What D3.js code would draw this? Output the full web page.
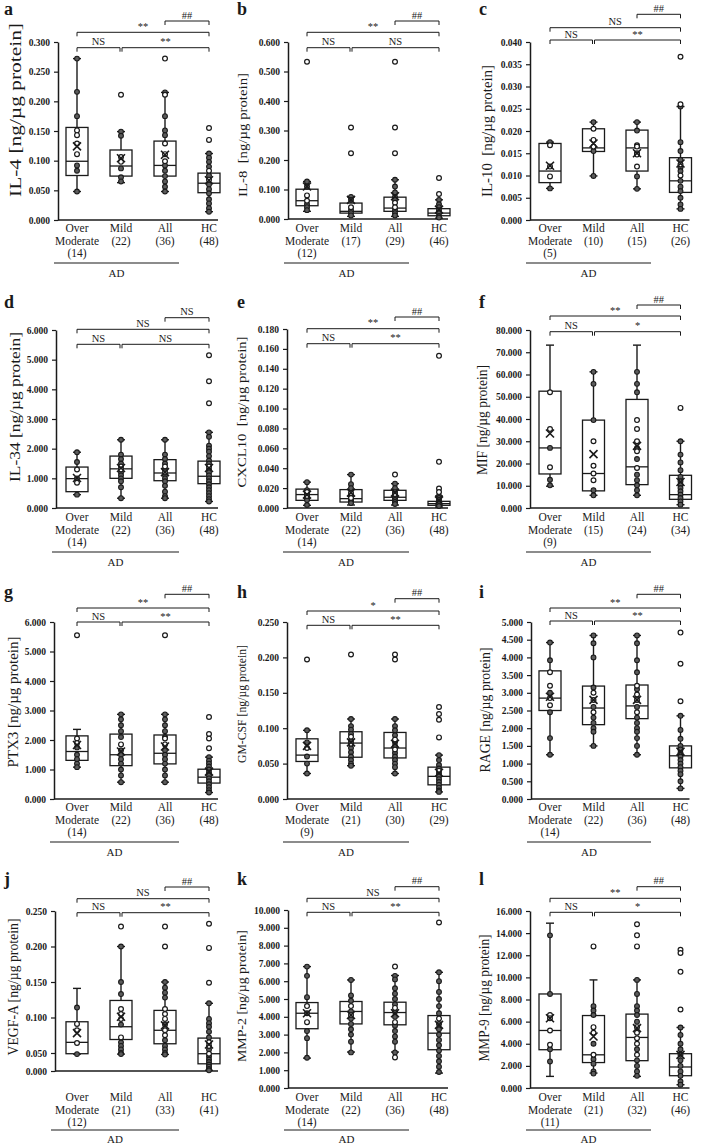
<!DOCTYPE html>
<html>
<head>
<meta charset="utf-8">
<script src="https://cdn.jsdelivr.net/npm/d3@7/dist/d3.min.js"></script>
<style>
  body { margin: 0; background: #fff; }
  svg text { font-family: "Liberation Serif", "Times New Roman", serif; fill: #1a1a1a; white-space: pre; }
</style>
</head>
<body>
<div id="chart"></div>
<script>
// ---- data ----
const panelIds = ["a", "b", "c", "d", "e", "f", "g", "h", "i", "j", "k", "l"];
const yLabels = [
  "IL-4 [ng/µg protein]", "IL-8  [ng/µg protein]", "IL-10  [ng/µg protein]",
  "IL-34 [ng/µg protein]", "CXCL10  [ng/µg protein]", "MIF [ng/µg protein]",
  "PTX3 [ng/µg protein]", "GM-CSF [ng/µg protein]", "RAGE [ng/µg protein]",
  "VEGF-A [ng/µg protein]", "MMP-2 [ng/µg protein]", "MMP-9 [ng/µg protein]"
];
const groupNames = ["Over", "Mild", "All", "HC"];
const groupN = [
  [14, 22, 36, 48], [12, 17, 29, 46], [5, 10, 15, 26],
  [14, 22, 36, 48], [14, 22, 36, 48], [9, 15, 24, 34],
  [14, 22, 36, 48], [9, 21, 30, 29], [14, 22, 36, 48],
  [12, 21, 33, 41], [14, 22, 36, 48], [11, 21, 32, 46]
];
const yMax  = [0.3, 0.6, 0.04, 6, 0.18, 80, 6, 0.25, 5, 0.25, 10, 16];
const yStep = [0.05, 0.1, 0.005, 1, 0.02, 10, 1, 0.05, 0.5, 0.05, 1, 2];

// significance labels: All vs HC, Over vs HC, Over vs Mild, Mild vs HC
const sigAllHC   = ["##", "##", "##", "NS", "##", "##", "##", "##", "##", "##", "##", "##"];
const sigOverHC  = ["**", "**", "NS", "NS", "**", "**", "**", "*", "**", "NS", "NS", "**"];
const sigOverMild = ["NS", "NS", "NS", "NS", "NS", "NS", "NS", "NS", "NS", "NS", "NS", "NS"];
const sigMildHC  = ["**", "NS", "**", "NS", "**", "*", "**", "**", "**", "**", "**", "*"];

// per panel, per group: [whisker low, q1, median, q3, whisker high]
const boxStats = [
  [[0.048, 0.075, 0.099, 0.156, 0.272], [0.063, 0.074, 0.091, 0.118, 0.149], [0.048, 0.074, 0.092, 0.133, 0.215], [0.014, 0.046, 0.062, 0.079, 0.112]],
  [[0.026, 0.045, 0.062, 0.101, 0.127], [0.009, 0.020, 0.026, 0.054, 0.075], [0.009, 0.026, 0.037, 0.074, 0.133], [0.003, 0.011, 0.020, 0.035, 0.065]],
  [[0.0071, 0.0084, 0.011, 0.0172, 0.0175], [0.0099, 0.0154, 0.0162, 0.0205, 0.022], [0.007, 0.011, 0.0162, 0.0202, 0.022], [0.0025, 0.0062, 0.0088, 0.014, 0.0255]],
  [[0.45, 0.55, 0.99, 1.38, 1.88], [0.33, 1.0, 1.32, 1.75, 2.3], [0.33, 0.92, 1.18, 1.63, 2.3], [0.22, 0.82, 1.07, 1.58, 2.55]],
  [[0.0027, 0.0077, 0.0135, 0.019, 0.026], [0.003, 0.006, 0.0094, 0.0185, 0.0336], [0.003, 0.0077, 0.0108, 0.0178, 0.0245], [0.001, 0.0027, 0.0044, 0.0067, 0.0121]],
  [[9.8, 15.3, 27.0, 52.5, 73.2], [5.7, 7.7, 15.5, 39.5, 61.2], [5.7, 10.5, 18.5, 48.8, 73.2], [1.5, 3.9, 6.0, 14.7, 30.0]],
  [[1.08, 1.31, 1.61, 2.14, 2.36], [0.57, 1.13, 1.5, 2.2, 2.87], [0.57, 1.19, 1.55, 2.17, 2.87], [0.22, 0.54, 0.74, 1.01, 1.42]],
  [[0.036, 0.053, 0.062, 0.085, 0.097], [0.047, 0.059, 0.079, 0.095, 0.113], [0.036, 0.058, 0.072, 0.094, 0.113], [0.010, 0.020, 0.032, 0.045, 0.062]],
  [[1.25, 2.5, 2.85, 3.62, 4.42], [1.5, 2.1, 2.57, 3.19, 4.62], [1.25, 2.27, 2.63, 3.22, 4.62], [0.3, 0.88, 1.22, 1.5, 2.35]],
  [[0.047, 0.048, 0.065, 0.094, 0.141], [0.047, 0.069, 0.087, 0.124, 0.2], [0.046, 0.063, 0.082, 0.11, 0.15], [0.002, 0.02, 0.048, 0.071, 0.12]],
  [[1.68, 3.33, 4.2, 4.8, 6.82], [2.02, 3.6, 4.3, 4.86, 6.07], [2.02, 3.55, 4.24, 4.82, 6.32], [0.84, 2.15, 3.08, 4.07, 6.5]],
  [[1.05, 3.46, 5.2, 8.5, 14.9], [1.35, 2.3, 3.0, 6.55, 9.77], [1.05, 2.47, 4.57, 6.68, 9.77], [0.3, 1.11, 1.9, 3.1, 5.47]]
];
const means = [
  [0.124, 0.104, 0.110, 0.067], [0.110, 0.065, 0.077, 0.032], [0.0122, 0.0172, 0.015, 0.0127],
  [1.01, 1.35, 1.21, 1.35], [0.0135, 0.0155, 0.0155, 0.0077], [33.5, 24.2, 27.9, 11.7],
  [1.83, 1.61, 1.78, 0.93], [0.075, 0.080, 0.078, 0.037], [2.89, 2.8, 2.8, 1.34],
  [0.078, 0.101, 0.089, 0.062], [4.2, 4.1, 4.2, 3.55], [6.3, 4.66, 5.41, 3.0]
];
// individual subjects drawn as filled dots
const filledPts = [
  [[0.272, 0.216, 0.175, 0.092, 0.083, 0.048], [0.149, 0.142, 0.087, 0.072, 0.065], [0.215, 0.175, 0.151, 0.143, 0.092, 0.083, 0.074, 0.065, 0.056, 0.048], [0.112, 0.105, 0.098, 0.090, 0.075, 0.060, 0.052, 0.045, 0.035, 0.028, 0.020, 0.014]],
  [[0.127, 0.110, 0.050, 0.040, 0.030], [0.075, 0.065, 0.030, 0.020, 0.012], [0.133, 0.110, 0.090, 0.075, 0.065, 0.030, 0.020, 0.012], [0.065, 0.050, 0.040, 0.030, 0.020, 0.010, 0.005]],
  [[0.0175, 0.0071], [0.022, 0.0155, 0.0099], [0.022, 0.0201, 0.0098, 0.007], [0.0255, 0.0175, 0.0155, 0.0135, 0.0118, 0.011, 0.0088, 0.0075, 0.0065, 0.005, 0.0035, 0.0025]],
  [[1.88, 1.55, 1.0, 0.45], [2.3, 1.8, 1.65, 1.5, 1.2, 1.1, 1.0, 0.9, 0.7, 0.33], [2.3, 1.8, 1.65, 1.5, 1.3, 1.1, 1.0, 0.9, 0.75, 0.55, 0.4, 0.33], [2.55, 2.4, 2.1, 2.0, 1.9, 1.75, 1.6, 1.5, 1.3, 1.2, 1.1, 1.0, 0.9, 0.8, 0.7, 0.6, 0.5, 0.4, 0.3, 0.22]],
  [[0.026, 0.018, 0.014, 0.010, 0.008, 0.003], [0.0336, 0.024, 0.020, 0.012, 0.008, 0.006, 0.005], [0.0245, 0.020, 0.016, 0.012, 0.010, 0.008, 0.006, 0.004], [0.0121, 0.010, 0.008, 0.006, 0.004, 0.002]],
  [[27, 12.7, 10.2], [61.2, 55.8, 39.5, 8, 5.7], [61.2, 55.8, 52, 27, 22, 15, 12.5, 10.2, 8, 5.7], [30, 24, 20.5, 17, 14, 12, 10.5, 9, 7.5, 6, 4.5, 3, 1.5]],
  [[1.75, 1.5, 1.35, 1.2, 1.08], [2.87, 2.7, 2.5, 2.3, 2.1, 1.65, 1.5, 1.35, 1.2, 1.0, 0.8, 0.57], [2.87, 2.7, 2.5, 2.3, 2.1, 1.65, 1.5, 1.35, 1.2, 1.0, 0.8, 0.57], [1.42, 1.3, 1.2, 1.1, 1.0, 0.9, 0.8, 0.7, 0.6, 0.5, 0.4, 0.3, 0.22]],
  [[0.097, 0.080, 0.060, 0.050, 0.036], [0.113, 0.103, 0.098, 0.092, 0.082, 0.072, 0.066, 0.060, 0.055, 0.050, 0.047], [0.113, 0.103, 0.097, 0.090, 0.080, 0.075, 0.065, 0.060, 0.055, 0.050, 0.045, 0.036], [0.062, 0.055, 0.048, 0.043, 0.036, 0.032, 0.028, 0.024, 0.020, 0.016, 0.012, 0.010]],
  [[4.42, 3.92, 3.0, 2.45, 1.72, 1.25], [4.62, 4.4, 4.0, 3.15, 2.6, 2.3, 2.15, 2.0, 1.9, 1.5], [4.62, 4.4, 3.92, 3.58, 3.1, 2.6, 2.3, 2.15, 2.0, 1.9, 1.72, 1.5, 1.25], [2.35, 1.95, 1.7, 1.5, 1.4, 1.3, 1.2, 1.1, 1.0, 0.9, 0.8, 0.7, 0.5, 0.3]],
  [[0.114, 0.047], [0.2, 0.15, 0.133, 0.090, 0.065, 0.060, 0.055, 0.050, 0.047], [0.15, 0.142, 0.135, 0.128, 0.090, 0.068, 0.060, 0.055, 0.050, 0.046], [0.12, 0.098, 0.092, 0.087, 0.080, 0.072, 0.055, 0.040, 0.032, 0.025, 0.018, 0.012, 0.006, 0.002]],
  [[6.82, 6.3, 5.1, 4.2, 3.2, 2.8, 1.7], [6.07, 5.2, 4.9, 4.3, 3.9, 3.6, 3.3, 3.0, 2.6, 2.0], [6.3, 6.1, 5.6, 5.3, 5.0, 4.7, 4.3, 4.0, 3.5, 3.2, 2.9, 2.6, 2.0], [6.5, 6.0, 5.4, 5.0, 4.6, 4.2, 3.6, 3.3, 3.0, 2.7, 2.4, 2.1, 1.8, 1.5, 1.2, 0.9]],
  [[13.8, 8.5, 3.5, 2.4], [7.4, 7.0, 6.6, 4.0, 2.6, 2.2, 1.5, 1.3], [9.77, 8.5, 7.4, 7.0, 6.6, 6.0, 3.5, 2.5, 2.0, 1.5, 1.1], [5.47, 4.8, 4.0, 3.5, 3.0, 2.5, 2.0, 1.5, 1.1, 0.6, 0.3]]
];
// individual subjects drawn as open dots
const openPts = [
  [[0.151, 0.143, 0.129, 0.111], [0.211, 0.106, 0.098], [0.272, 0.211, 0.129, 0.111, 0.099], [0.155, 0.135, 0.083, 0.068]],
  [[0.533, 0.080, 0.062], [0.310, 0.223, 0.040], [0.533, 0.310, 0.223, 0.055, 0.040], [0.139, 0.085]],
  [[0.0168, 0.012, 0.0098], [0.0205, 0.018, 0.0165], [0.0168, 0.0165, 0.015, 0.0147, 0.012], [0.0367, 0.026, 0.0125, 0.010]],
  [[1.3, 0.85], [1.4, 1.3], [1.4, 1.2], [5.15, 4.27, 3.53, 1.4]],
  [[0.016, 0.012], [0.015, 0.010], [0.0336, 0.014], [0.153, 0.0464, 0.0195, 0.016]],
  [[52, 35.5, 18.3], [30, 19, 15.5, 12.5], [39.5, 35.5, 30, 25.5, 18], [45]],
  [[5.55, 2.05, 1.9], [1.85], [5.55, 2.05, 1.85], [2.78, 2.2, 2.05, 1.72]],
  [[0.197, 0.072], [0.204, 0.088, 0.078], [0.204, 0.197, 0.084, 0.070], [0.130, 0.120, 0.112, 0.087, 0.040]],
  [[3.58, 3.2, 2.85, 2.65], [3.0, 2.8, 2.45], [3.2, 2.95, 2.8, 2.45], [4.7, 3.82, 2.76]],
  [[0.091, 0.082, 0.064], [0.228, 0.112, 0.105, 0.098, 0.072], [0.228, 0.2, 0.112, 0.105, 0.098, 0.082, 0.075], [0.232, 0.198, 0.149, 0.065, 0.060, 0.048]],
  [[4.6, 3.7], [4.6, 4.1], [6.82, 4.5, 3.7, 1.72], [9.3, 3.9]],
  [[6.6, 6.3, 5.2, 3.9], [12.8, 5.5, 5.0, 3.0], [14.8, 13.8, 12.8, 5.5, 5.0, 4.5, 4.0, 3.0], [12.5, 12.2, 10.5, 7.1]]
];

// ---- layout (pixel positions of each panel in the composite) ----
const colX = [77, 307, 550];       // x of first category per column
const colStep = [44, 44, 43.5];
const letterX = [4, 237, 479];
const letterY = [15, 308, 598, 885];
const adLine = [35, 35, 35, 33];   // offset of AD rule below first label line, per row
const adText = [45, 45, 45, 42];
const layout = [
  { col: 0, row: 0, ox: 58,  top: 42,  bot: 220,  lab: 228,  yl: [15, 110, 174, 16],   br: [-21, -9.7, 5.7] },
  { col: 1, row: 0, ox: 288, top: 42,  bot: 219,  lab: 228,  yl: [243, 135, 124, 12.5], br: [-21, -9.7, 5.7] },
  { col: 2, row: 0, ox: 530, top: 42,  bot: 220,  lab: 228,  yl: [487, 131, 132, 14],  br: [-27.7, -14.3, -2] },
  { col: 0, row: 1, ox: 56,  top: 330, bot: 508,  lab: 517,  yl: [15, 407, 150, 15],   br: [-12.3, -0.7, 14.3] },
  { col: 1, row: 1, ox: 287, top: 329, bot: 508,  lab: 517,  yl: [241, 412, 151, 13.5], br: [-12, -0.3, 14.7] },
  { col: 2, row: 1, ox: 530, top: 330, bot: 508,  lab: 517,  yl: [482, 420, 110, 14.5], br: [-25, -14, 1.7] },
  { col: 0, row: 2, ox: 54,  top: 622, bot: 799,  lab: 807,  yl: [13, 702, 131, 14.5], br: [-27.7, -14, 0] },
  { col: 1, row: 2, ox: 287, top: 622, bot: 799,  lab: 807,  yl: [241, 704, 118, 13.5], br: [-23.3, -11, 3.3] },
  { col: 2, row: 2, ox: 531, top: 622, bot: 799,  lab: 807,  yl: [485, 710, 125, 14.5], br: [-27.7, -14, -1] },
  { col: 0, row: 3, ox: 55,  top: 911, bot: 1071, lab: 1097, yl: [13, 987, 137, 14.5], br: [-24, -12.3, 1.7], brk: [0.05, 1053] },
  { col: 1, row: 3, ox: 288, top: 910, bot: 1088, lab: 1097, yl: [241, 996, 132, 13.5], br: [-23.3, -11.7, 2.3] },
  { col: 2, row: 3, ox: 530, top: 911, bot: 1088, lab: 1097, yl: [484, 998, 127, 14.5], br: [-24.3, -12.7, 1.3] }
];

const svg = d3.select("#chart").append("svg")
    .attr("width", 709)
    .attr("height", 1145)
    .attr("font-family", "Liberation Serif, Times New Roman, serif");

const ink = "#1a1a1a";
const fmt = d3.format(".3f");

panelIds.forEach((id, p) => {
    const L = layout[p];
    const g = svg.append("g");

    // y scale (panel j has a squeezed bottom step in the original)
    const y = L.brk
        ? d3.scaleLinear().domain([0, L.brk[0], yMax[p]]).range([L.bot, L.brk[1], L.top])
        : d3.scaleLinear().domain([0, yMax[p]]).range([L.bot, L.top]);
    const cx = i => colX[L.col] + i * colStep[L.col];

    // panel letter
    g.append("text")
        .attr("x", letterX[L.col]).attr("y", letterY[L.row])
        .attr("font-size", 18).attr("font-weight", "bold")
        .text(id);

    // y axis
    const ticks = d3.range(0, yMax[p] + yStep[p] / 2, yStep[p]);
    const ax = g.append("g")
        .attr("transform", `translate(${L.ox},0)`)
        .call(d3.axisLeft(y).tickValues(ticks).tickFormat(fmt)
            .tickSize(4).tickSizeOuter(0).tickPadding(4));
    ax.attr("font-family", null).attr("font-size", null);
    ax.select(".domain").attr("stroke", ink).attr("stroke-width", 1.5);
    ax.selectAll(".tick line").attr("stroke", ink).attr("stroke-width", 1.2);
    ax.selectAll(".tick text").attr("font-size", 9.5).attr("font-weight", "bold").attr("fill", ink);

    // x axis line
    g.append("line")
        .attr("x1", L.ox).attr("x2", cx(3) + 9)
        .attr("y1", L.bot).attr("y2", L.bot)
        .attr("stroke", ink).attr("stroke-width", 1.5);

    // y label
    g.append("text")
        .attr("transform", `translate(${L.yl[0]},${L.yl[1]}) rotate(-90)`)
        .attr("text-anchor", "middle").attr("dominant-baseline", "central")
        .attr("font-size", L.yl[3])
        .attr("textLength", L.yl[2]).attr("lengthAdjust", "spacingAndGlyphs")
        .text(yLabels[p]);

    // category labels
    groupNames.forEach((name, i) => {
        const lines = i === 0 ? [name, "Moderate", `(${groupN[p][i]})`] : [name, `(${groupN[p][i]})`];
        lines.forEach((t, k) => {
            g.append("text")
                .attr("x", cx(i)).attr("y", L.lab + k * 12.5)
                .attr("text-anchor", "middle").attr("dominant-baseline", "central")
                .attr("font-size", 11.5)
                .text(t);
        });
    });

    // AD group line
    const adX1 = L.ox - 4, adX2 = cx(2) + 14;
    g.append("line")
        .attr("x1", adX1).attr("x2", adX2)
        .attr("y1", L.lab + adLine[L.row]).attr("y2", L.lab + adLine[L.row])
        .attr("stroke", ink).attr("stroke-width", 1.2);
    g.append("text")
        .attr("x", (adX1 + adX2) / 2).attr("y", L.lab + adText[L.row])
        .attr("text-anchor", "middle").attr("dominant-baseline", "central")
        .attr("font-size", 11)
        .text("AD");

    // significance brackets
    const bracket = (x1, x2, yy, label) => {
        g.append("path")
            .attr("d", `M${x1},${yy + 4}V${yy}H${x2}V${yy + 4}`)
            .attr("fill", "none").attr("stroke", ink).attr("stroke-width", 1);
        g.append("text")
            .attr("x", (x1 + x2) / 2).attr("y", yy - 2.5)
            .attr("text-anchor", "middle")
            .attr("font-size", 10.5)
            .text(label);
    };
    bracket(cx(2), cx(3), L.top + L.br[0], sigAllHC[p]);
    bracket(cx(0), cx(3), L.top + L.br[1], sigOverHC[p]);
    bracket(cx(0), cx(1) - 1, L.top + L.br[2], sigOverMild[p]);
    bracket(cx(1) + 1, cx(3), L.top + L.br[2], sigMildHC[p]);

    // boxes
    const hw = 11, cap = 4;
    boxStats[p].forEach((s, i) => {
        const x = cx(i);
        const [lo, q1, med, q3, hi] = s;
        g.append("line")
            .attr("x1", x).attr("x2", x).attr("y1", y(lo)).attr("y2", y(hi))
            .attr("stroke", ink).attr("stroke-width", 1.4);
        [lo, hi].forEach(v => g.append("line")
            .attr("x1", x - cap).attr("x2", x + cap).attr("y1", y(v)).attr("y2", y(v))
            .attr("stroke", ink).attr("stroke-width", 1.4));
        g.append("rect")
            .attr("x", x - hw).attr("y", y(q3))
            .attr("width", hw * 2).attr("height", y(q1) - y(q3))
            .attr("fill", "#fff").attr("stroke", ink).attr("stroke-width", 1.3);
        g.append("line")
            .attr("x1", x - hw).attr("x2", x + hw).attr("y1", y(med)).attr("y2", y(med))
            .attr("stroke", ink).attr("stroke-width", 1.3);

        g.selectAll(null).data(filledPts[p][i]).enter().append("circle")
            .attr("cx", x).attr("cy", d => y(d)).attr("r", 2.4)
            .attr("fill", "#5c5c5c").attr("stroke", ink).attr("stroke-width", 1.1);
        g.selectAll(null).data(openPts[p][i]).enter().append("circle")
            .attr("cx", x).attr("cy", d => y(d)).attr("r", 2.4)
            .attr("fill", "#fff").attr("stroke", ink).attr("stroke-width", 1.2);

        // mean marker
        const ym = y(means[p][i]), m = 4;
        g.append("path")
            .attr("d", `M${x - m},${ym - m}L${x + m},${ym + m}M${x - m},${ym + m}L${x + m},${ym - m}`)
            .attr("stroke", ink).attr("stroke-width", 1.6);
    });
});
</script>
</body>
</html>
